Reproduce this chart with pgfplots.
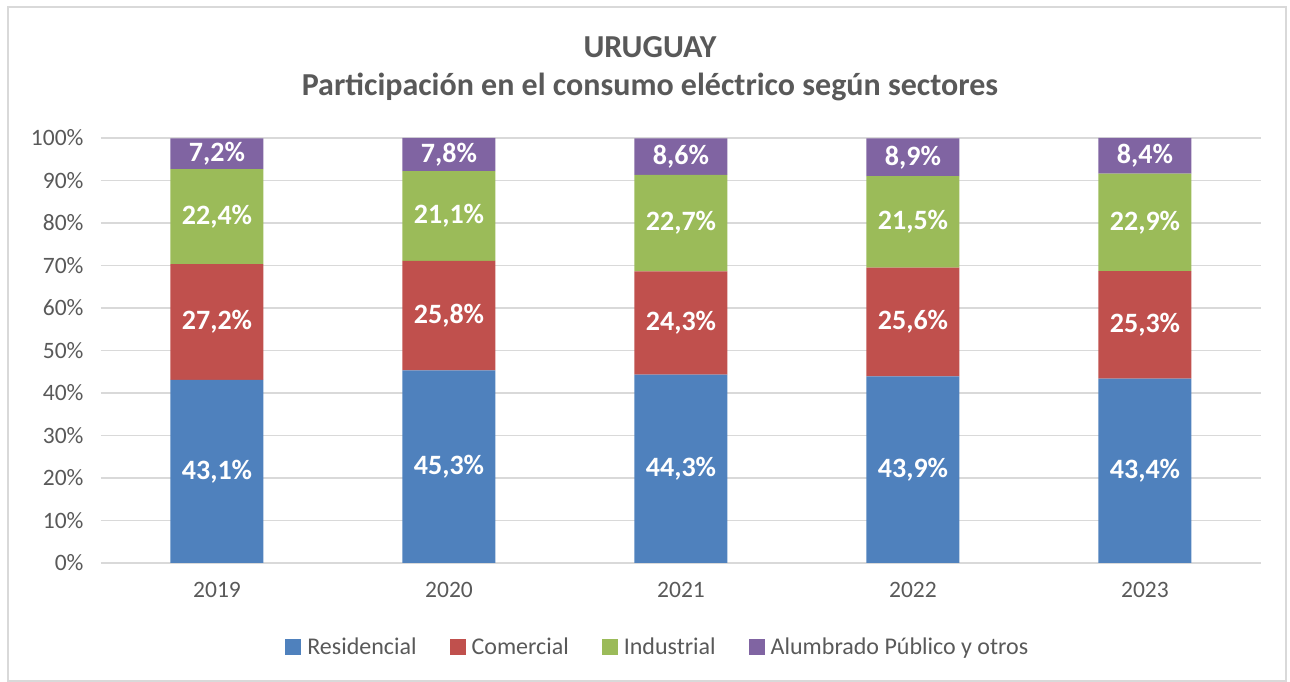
\documentclass[border=0pt]{standalone}
\usepackage{pgfplots}
\pgfplotsset{compat=1.18}
\usepackage{pgfplotstable}
\usepackage{fontspec}
\setmainfont{Carlito}
\definecolor{cres}{HTML}{4F81BD}
\definecolor{ccom}{HTML}{C0504D}
\definecolor{cind}{HTML}{9BBB59}
\definecolor{calu}{HTML}{8064A2}
\definecolor{txtgray}{HTML}{595959}
\definecolor{gridgray}{HTML}{D9D9D9}
\pgfplotstableread{
x res com ind alu
0 43.1 27.2 22.4 7.2
1 45.3 25.8 21.1 7.8
2 44.3 24.3 22.7 8.6
3 43.9 25.6 21.5 8.9
4 43.4 25.3 22.9 8.4
}\data
\pgfplotsset{
  common/.style={
    scale only axis, width=1160pt, height=425pt,
    at={(0pt,0pt)}, anchor=south west,
    xmin=-0.5, xmax=4.5, ymin=0, ymax=100,
  },
  lbl/.style={draw=none, mark=none, nodes near coords={\pgfmathprintnumber[fixed,fixed zerofill,precision=1,use comma,assume math mode=true]{\pgfplotspointmeta}\%},
    every node near coord/.style={text=white, anchor=center, font=\bfseries\fontsize{28}{32}\selectfont}},
}
\begin{document}
\begin{tikzpicture}[x=1pt,y=1pt]
\path[use as bounding box] (-101,-119) rectangle (1189,563);
\draw[gridgray, line width=1.2pt] (-93,-118) rectangle (1185,556);
\node[font=\bfseries\fontsize{32}{36}\selectfont, text=txtgray] at (549,516) {URUGUAY};
\node[font=\bfseries\fontsize{32}{36}\selectfont, text=txtgray] at (549,476) {Participación en el consumo eléctrico según sectores};
\begin{axis}[common,
  ybar stacked, bar width=93pt,
  axis line style={draw=none}, major tick length=0pt,
  ymajorgrids, grid style={gridgray, line width=1.5pt},
  xtick={0,1,2,3,4}, xticklabels={2019,2020,2021,2022,2023},
  ytick={0,10,...,100},
  yticklabel={\pgfmathprintnumber[assume math mode=true]{\tick}\%},
  ticklabel style={font=\fontsize{23.5}{27}\selectfont, text=txtgray},
  yticklabel style={xshift=-14pt},
  xticklabel style={yshift=-16pt},
  legend columns=4,
  legend style={draw=none, fill=none, at={(axis description cs:0.480,0)}, yshift=-84pt, anchor=center,
    font=\fontsize{24}{28}\selectfont, text=txtgray,
    /tikz/every odd column/.append style={column sep=4pt},
    /tikz/every even column/.append style={column sep=31pt}},
  legend image code/.code={\fill[#1] (0pt,-8pt) rectangle (16pt,8pt);},
  legend cell align=left,
]
\addplot[fill=cres, draw=none] table[x=x,y=res]{\data};
\addplot[fill=ccom, draw=none] table[x=x,y=com]{\data};
\addplot[fill=cind, draw=none] table[x=x,y=ind]{\data};
\addplot[fill=calu, draw=none] table[x=x,y=alu]{\data};
\legend{Residencial,Comercial,Industrial,Alumbrado Público y otros}
\end{axis}
\begin{axis}[common, hide axis]
\addplot[lbl, point meta=\thisrow{res}] table[x=x, y expr=\thisrow{res}/2]{\data};
\addplot[lbl, point meta=\thisrow{com}] table[x=x, y expr=\thisrow{res}+\thisrow{com}/2]{\data};
\addplot[lbl, point meta=\thisrow{ind}] table[x=x, y expr=\thisrow{res}+\thisrow{com}+\thisrow{ind}/2]{\data};
\addplot[lbl, point meta=\thisrow{alu}] table[x=x, y expr=\thisrow{res}+\thisrow{com}+\thisrow{ind}+\thisrow{alu}/2]{\data};
\end{axis}
\end{tikzpicture}
\end{document}
